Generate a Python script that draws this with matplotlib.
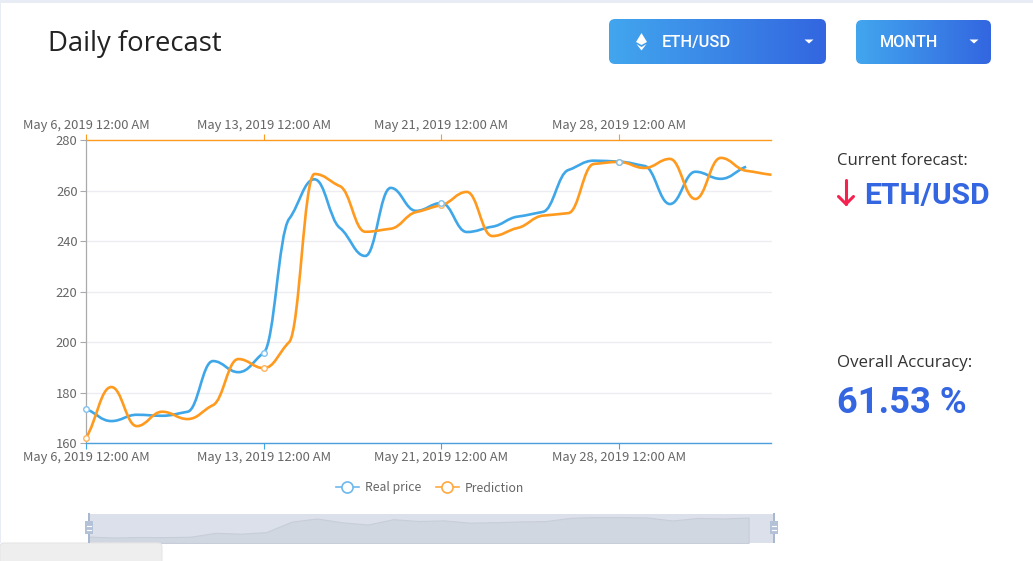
import numpy as np
import matplotlib
matplotlib.use("Agg")
import matplotlib.pyplot as plt
from matplotlib.lines import Line2D
from matplotlib.patches import FancyBboxPatch, PathPatch, Polygon, Rectangle
from matplotlib.path import Path

# one entry per day on the category axis (May 17 is missing in the source)
dates = [
    "May 6", "May 7", "May 8", "May 9", "May 10", "May 11", "May 12", "May 13",
    "May 14", "May 15", "May 16", "May 18", "May 19", "May 20", "May 21",
    "May 22", "May 23", "May 24", "May 25", "May 26", "May 27", "May 28",
    "May 29", "May 30", "May 31", "Jun 1", "Jun 2", "Jun 3",
]
tick_idx = [0, 7, 14, 21]
tick_labels = ["May 6, 2019 12:00 AM", "May 13, 2019 12:00 AM",
               "May 21, 2019 12:00 AM", "May 28, 2019 12:00 AM"]

real_price = [173.5, 168.7, 171.2, 170.8, 172.4, 192.5, 188.1, 195.8, 248.9,
              264.6, 245.3, 234.2, 261.2, 252.1, 255.2, 243.7, 245.8, 249.8,
              251.7, 268.3, 272.0, 271.6, 269.9, 254.8, 267.6, 264.8, 269.6]
prediction = [162.0, 182.2, 166.7, 172.4, 169.5, 175.0, 193.3, 189.7, 200.0,
              266.7, 261.9, 243.8, 245.0, 251.6, 254.4, 259.6, 242.1, 245.3,
              250.2, 251.2, 270.7, 271.5, 269.1, 272.7, 256.8, 273.1, 268.0,
              266.4]

BLUE = "#3fa7e8"
ORANGE = "#ff9a1f"
INK = "#3366e0"
GREY = "#666666"
W, H = 1033, 561

plt.rcParams["font.family"] = ["Noto Sans CJK SC", "DejaVu Sans"]


def px_axes(fig, x0, y0, x1, y1, **kw):
    # axes placed by pixel box, y counted from the top of the image
    return fig.add_axes([x0 / W, 1 - y1 / H, (x1 - x0) / W, (y1 - y0) / H], **kw)


def smooth_path(xs, ys):
    # monotone bezier: flat at local peaks, shoulders next to big jumps
    xs = np.asarray(xs, dtype=float)
    ys = np.asarray(ys, dtype=float)
    slopes = np.diff(ys) / np.diff(xs)
    tangents = np.zeros(len(ys))
    for i in range(1, len(ys) - 1):
        a, b = slopes[i - 1], slopes[i]
        if a * b > 0:
            tangents[i] = 0.7 * 2 * a * b / (a + b)
    tangents[0] = slopes[0]
    tangents[-1] = slopes[-1]
    verts = [(xs[0], ys[0])]
    codes = [Path.MOVETO]
    for i in range(len(xs) - 1):
        step = xs[i + 1] - xs[i]
        verts.append((xs[i] + step * 0.42, ys[i] + tangents[i] * step * 0.33))
        verts.append((xs[i + 1] - step * 0.42, ys[i + 1] - tangents[i + 1] * step * 0.33))
        verts.append((xs[i + 1], ys[i + 1]))
        codes += [Path.CURVE4] * 3
    return Path(verts, codes)


def gradient_button(ax, x0, y0, x1, y1):
    box = FancyBboxPatch((x0 + 6, y0 + 6), x1 - x0 - 12, y1 - y0 - 12,
                         boxstyle="round,pad=6,rounding_size=6",
                         fc="none", ec="none", transform=ax.transData)
    ax.add_patch(box)
    cmap = matplotlib.colors.LinearSegmentedColormap.from_list("btn", ["#42a6ee", "#3366e0"])
    img = ax.imshow(np.linspace(0, 1, 256)[None, :], cmap=cmap, aspect="auto",
                    extent=(x0, x1, y1, y0), zorder=2)
    img.set_clip_path(box)


fig = plt.figure(figsize=(W / 100, H / 100), dpi=100, facecolor="white")

# page chrome in pixel coordinates
bg = px_axes(fig, 0, 0, W, H)
bg.axis("off")
bg.add_patch(Rectangle((0, 0), W, 3, fc="#e8ecf4", ec="none"))
bg.add_patch(Rectangle((0, 0), 1.2, 543, fc="#e8ecf4", ec="none"))
bg.add_patch(FancyBboxPatch((4, 547), 154, 30, boxstyle="round,pad=4,rounding_size=4",
                            fc="#eeeeee", ec="#e6e6e6", lw=0.8, zorder=5))

gradient_button(bg, 609, 19, 826, 64)
gradient_button(bg, 856, 20, 991, 64)
bg.set_xlim(0, W)
bg.set_ylim(H, 0)

bg.text(48, 43.5, "Daily forecast", fontsize=19.8, color="#222222", va="center",
        family=["Open Sans", "DejaVu Sans"])
bg.text(662, 42, "ETH/USD", fontsize=11.9, color="white", va="center", zorder=3,
        family=["Roboto", "DejaVu Sans"], fontweight="medium")
bg.text(880, 42, "MONTH", fontsize=11.7, color="white", va="center", zorder=3,
        family=["Roboto", "DejaVu Sans"], fontweight="medium")
for cx in (809, 974):
    bg.add_patch(Polygon([(cx - 4.5, 39.5), (cx + 4.5, 39.5), (cx, 43.5)], fc="white", ec="none", zorder=3))

# ethereum mark on the first button
bg.add_patch(Polygon([(641.5, 33), (647, 42), (641.5, 45), (636, 42)], fc="white", ec="none", zorder=3))
bg.add_patch(Polygon([(636.5, 44), (641.5, 47), (646.5, 44), (641.5, 50.5)], fc="white", ec="none", zorder=3))

bg.text(837, 161, "Current forecast:", fontsize=12, color="#333333", va="center",
        family=["Open Sans", "DejaVu Sans"])
bg.text(864, 196, "ETH/USD", fontsize=21.6, color=INK, va="center", fontweight="bold",
        family=["Roboto", "DejaVu Sans"])
bg.plot([846, 846], [180, 204], color="#f5224f", lw=2.2, solid_capstyle="round")
bg.plot([838.5, 846, 853.5], [196.5, 204, 196.5], color="#f5224f", lw=2.2,
        solid_capstyle="round", solid_joinstyle="miter")
bg.text(837, 363, "Overall Accuracy:", fontsize=12.2, color="#333333", va="center",
        family=["Open Sans", "DejaVu Sans"])
bg.text(837, 403, "61.53 %", fontsize=26.2, color=INK, va="center", fontweight="bold",
        family=["Roboto", "DejaVu Sans"])

# main chart
ax = px_axes(fig, 86, 140.5, 771.5, 443)
ax.patch.set_alpha(0)
ax.set_xlim(0, len(dates) - 1)
ax.set_ylim(160, 280)

ax.add_patch(PathPatch(smooth_path(np.arange(len(real_price)), real_price),
                       fc="none", ec=BLUE, lw=1.9, zorder=3, clip_on=False))
ax.add_patch(PathPatch(smooth_path(np.arange(len(prediction)), prediction),
                       fc="none", ec=ORANGE, lw=1.9, zorder=3, clip_on=False))
ax.plot(tick_idx, [prediction[i] for i in tick_idx], ls="none", marker="o", ms=4,
        mfc="white", mec="#ffb35c", mew=1, zorder=4, clip_on=False)
ax.plot(tick_idx, [real_price[i] for i in tick_idx], ls="none", marker="o", ms=4,
        mfc="white", mec="#7fc2ee", mew=1, zorder=4, clip_on=False)

ax.set_yticks(range(160, 281, 20))
ax.grid(axis="y", color="#ececf2", lw=1)
ax.set_axisbelow(True)
ax.tick_params(axis="y", length=4.5, width=0.8, color="#aaaaaa", labelcolor=GREY, labelsize=9.35, pad=1.5)
ax.set_xticks(tick_idx)
ax.set_xticklabels(tick_labels)
ax.tick_params(axis="x", length=4.5, width=0.8, color=BLUE, labelcolor=GREY, labelsize=9.35, pad=1)
for side in ("right", "top"):
    ax.spines[side].set_visible(False)
ax.spines["left"].set_color("#aaaaaa")
ax.spines["left"].set_linewidth(0.9)
ax.spines["bottom"].set_color("#4aa0dc")
ax.spines["bottom"].set_linewidth(1)

ax_top = ax.secondary_xaxis("top")
ax_top.set_xticks(tick_idx)
ax_top.set_xticklabels(tick_labels)
ax_top.tick_params(axis="x", length=4.5, width=0.8, color=ORANGE, labelcolor=GREY, labelsize=9.35, pad=1.5)
ax_top.spines["top"].set_color(ORANGE)
ax_top.spines["top"].set_linewidth(1)

handles = [
    Line2D([], [], color="#6cb9ec", lw=1.2, marker="o", ms=8, mfc="white", mec="#6cb9ec", mew=1.2, label="Real price"),
    Line2D([], [], color="#ffa940", lw=1.2, marker="o", ms=8, mfc="white", mec="#ffa940", mew=1.2, label="Prediction"),
]
leg_ax = px_axes(fig, 330, 478, 530, 498)
leg_ax.axis("off")
leg_ax.legend(handles=handles, loc="center", ncol=2, frameon=False, fontsize=8.8,
              labelcolor=GREY, handlelength=1.9, handletextpad=0.5, columnspacing=1.2,
              borderpad=0, borderaxespad=0)

# data zoom strip below the chart
zoom = px_axes(fig, 88.5, 513.5, 774, 543)
zoom.set_facecolor("#dbe0ea")
zoom.set_xlim(0, 27)
zoom.set_ylim(141, 290)
zoom.fill_between(np.arange(len(real_price)), real_price, 141,
                  fc="#d1d7e1", ec="#c8ced9", lw=0.8)
zoom.set_xticks([])
zoom.set_yticks([])
for spine in zoom.spines.values():
    spine.set_visible(False)

# slider handles
for hx in (89, 774):
    bg.add_patch(Rectangle((hx - 0.7, 513), 1.4, 30, fc="#a8b8d0", ec="none", zorder=6))
    bg.add_patch(Rectangle((hx - 4, 521), 7.5, 13, fc="#b4c2d8", ec="none", zorder=6))
    bg.plot([hx - 2, hx + 1.5], [526, 526], color="white", lw=0.8, zorder=7)
    bg.plot([hx - 2, hx + 1.5], [529.5, 529.5], color="white", lw=0.8, zorder=7)
bg.set_zorder(3)
bg.patch.set_alpha(0)
bg.set_xlim(0, W)
bg.set_ylim(H, 0)

fig.savefig("out.png", dpi=100, facecolor="white")
